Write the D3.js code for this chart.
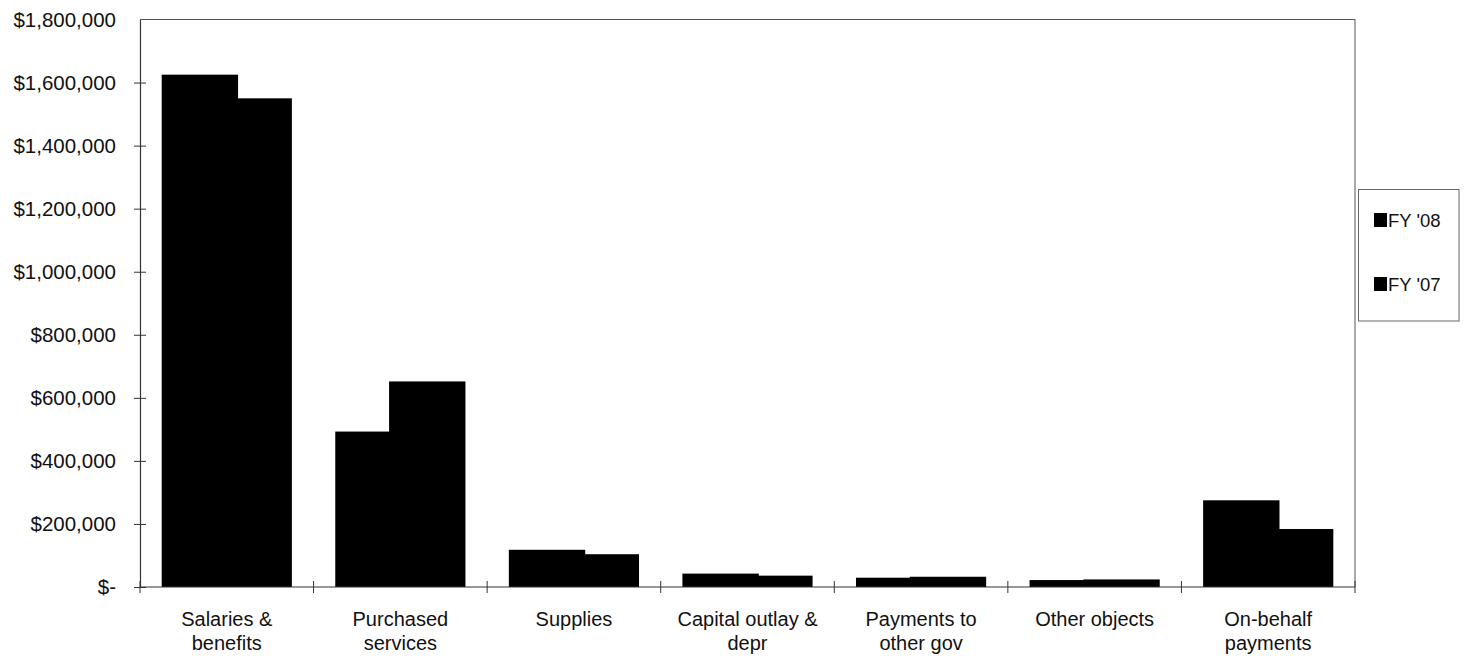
<!DOCTYPE html>
<html>
<head>
<meta charset="utf-8">
<script src="https://cdn.jsdelivr.net/npm/d3@7"></script>
<style>
  html, body { margin: 0; padding: 0; background: #fff; }
  svg { display: block; }
  text { font-family: "Liberation Sans", Arial, sans-serif; fill: #111; }
</style>
</head>
<body>
<svg id="chart" width="1466" height="656"></svg>
<script>
// ---- data ----
const categories = ["Salaries & benefits", "Purchased services", "Supplies",
  "Capital outlay & depr", "Payments to other gov", "Other objects", "On-behalf payments"];
const categoryLines = [["Salaries &", "benefits"], ["Purchased", "services"], ["Supplies"],
  ["Capital outlay &", "depr"], ["Payments to", "other gov"], ["Other objects"], ["On-behalf", "payments"]];
const seriesNames = ["FY '08", "FY '07"];
const fy08 = [1625000, 493000, 118000, 42500, 29500, 22000, 275000];
const fy07 = [1550000, 652000, 104000, 36000, 32500, 24000, 184000];
const yTicks = [0, 200000, 400000, 600000, 800000, 1000000, 1200000, 1400000, 1600000, 1800000];

(function () {
// ---- layout ----
const svg = d3.select("#chart");
const pL = 140, pR = 1355, pT = 19.5, pB = 587;

const x = d3.scaleBand().domain(categories).range([pL, pR]).paddingInner(0).paddingOuter(0);
const y = d3.scaleLinear().domain([0, 1800000]).range([pB, pT]);
const bw = x.bandwidth();
const barW = bw * 0.44;

// plot frame (top and right)
svg.append("path")
  .attr("d", `M${pL},${pT}H${pR}V${pB}`)
  .attr("fill", "none").attr("stroke", "#555").attr("stroke-width", 1);

// bars
const rows = categories.map((c, i) => ({ c, v08: fy08[i], v07: fy07[i] }));
const g = svg.append("g");
g.selectAll("rect.b07").data(rows).join("rect")
  .attr("class", "b07")
  .attr("x", d => x(d.c) + bw * 0.875 - barW)
  .attr("width", barW)
  .attr("y", d => y(d.v07))
  .attr("height", d => y(0) - y(d.v07))
  .attr("fill", "#000");
g.selectAll("rect.b08").data(rows).join("rect")
  .attr("class", "b08")
  .attr("x", d => x(d.c) + bw * 0.125)
  .attr("width", barW)
  .attr("y", d => y(d.v08))
  .attr("height", d => y(0) - y(d.v08))
  .attr("fill", "#000");

// y axis
const fmt = d3.format(",");
const yAxis = d3.axisLeft(y).tickValues(yTicks)
  .tickSize(0).tickPadding(24)
  .tickFormat(v => v === 0 ? "$-" : "$" + fmt(v));
const ya = svg.append("g").attr("transform", `translate(${pL},0)`).call(yAxis);
ya.select(".domain").attr("stroke", "#333").attr("stroke-width", 1.2);
ya.selectAll(".tick text").attr("font-size", 20.5).attr("fill", "#111")
  .style("font-family", '"Liberation Sans", Arial, sans-serif');
ya.selectAll(".tick").filter(d => d < 1800000).append("line")
  .attr("x1", -6).attr("x2", 6).attr("stroke", "#333");

// x axis baseline and cross ticks at category boundaries
svg.append("line").attr("x1", pL).attr("x2", pR).attr("y1", pB).attr("y2", pB)
  .attr("stroke", "#333").attr("stroke-width", 1.2);
const bounds = categories.map(c => x(c)).concat([x(categories[categories.length - 1]) + bw]);
svg.selectAll("line.xt").data(bounds).join("line")
  .attr("class", "xt")
  .attr("x1", d => d).attr("x2", d => d)
  .attr("y1", pB - 6).attr("y2", pB + 6)
  .attr("stroke", "#333");

// category labels
const lab = svg.selectAll("text.cat").data(categories).join("text")
  .attr("class", "cat")
  .attr("text-anchor", "middle")
  .attr("font-size", 20);
lab.each(function (c, i) {
  const t = d3.select(this);
  categoryLines[i].forEach((ln, k) => {
    t.append("tspan").attr("x", x(c) + bw / 2).attr("y", 626 + k * 24).text(ln);
  });
});

// legend
svg.append("rect").attr("x", 1358.5).attr("y", 189.5).attr("width", 100.5).attr("height", 131.5)
  .attr("fill", "none").attr("stroke", "#666").attr("stroke-width", 1);
const leg = svg.selectAll("g.leg").data(seriesNames).join("g")
  .attr("class", "leg")
  .attr("transform", (d, i) => `translate(1374,${213 + i * 64})`);
leg.append("rect").attr("width", 13).attr("height", 14).attr("fill", "#000");
leg.append("text").attr("x", 14).attr("y", 13.5).attr("font-size", 18.5).text(d => d);
})();
</script>
</body>
</html>
